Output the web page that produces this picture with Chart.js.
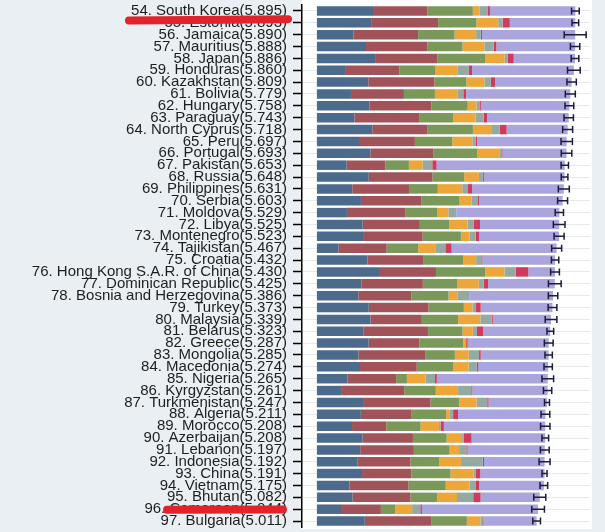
<!DOCTYPE html>
<html>
<head>
<meta charset="utf-8">
<script src="https://cdn.jsdelivr.net/npm/chart.js@4.4.0/dist/chart.umd.min.js"></script>
<style>
  html, body { margin: 0; padding: 0; background: #e9eff2; }
  #wrap { width: 605px; height: 532px; position: relative; }
</style>
</head>
<body>
<div id="wrap"><canvas id="c" width="605" height="532"></canvas></div>
<script>
const ranks = [54,55,56,57,58,59,60,61,62,63,64,65,66,67,68,69,70,71,72,73,74,75,76,77,78,79,80,81,82,83,84,85,86,87,88,89,90,91,92,93,94,95,96,97];
const countries = ["South Korea","Estonia","Jamaica","Mauritius","Japan","Honduras","Kazakhstan","Bolivia","Hungary","Paraguay","North Cyprus","Peru","Portugal","Pakistan","Russia","Philippines","Serbia","Moldova","Libya","Montenegro","Tajikistan","Croatia","Hong Kong S.A.R. of China","Dominican Republic","Bosnia and Herzegovina","Turkey","Malaysia","Belarus","Greece","Mongolia","Macedonia","Nigeria","Kyrgyzstan","Turkmenistan","Algeria","Morocco","Azerbaijan","Lebanon","Indonesia","China","Vietnam","Bhutan","Cameroon","Bulgaria"];
const scores = [5.895,5.893,5.890,5.888,5.886,5.860,5.809,5.779,5.758,5.743,5.718,5.697,5.693,5.653,5.648,5.631,5.603,5.529,5.525,5.523,5.467,5.432,5.430,5.425,5.386,5.373,5.339,5.323,5.287,5.285,5.274,5.265,5.261,5.247,5.211,5.208,5.208,5.197,5.192,5.191,5.175,5.082,5.044,5.011];

const gdp        = [1.301,1.237,0.831,1.120,1.327,0.642,1.173,0.776,1.201,0.855,1.263,0.960,1.221,0.677,1.183,0.807,1.004,0.685,1.044,1.051,0.493,1.155,1.438,1.015,0.945,1.183,1.221,1.067,1.181,0.948,0.983,0.696,0.551,1.052,1.002,0.801,1.043,0.987,0.931,1.029,0.741,0.813,0.549,1.092];
const social     = [1.219,1.528,1.478,1.402,1.419,1.236,1.508,1.209,1.410,1.475,1.252,1.274,1.431,0.886,1.452,1.293,1.383,1.328,1.303,1.361,1.098,1.266,1.277,1.401,1.212,1.360,1.171,1.465,1.156,1.531,1.294,1.111,1.438,1.538,1.160,0.782,1.147,1.224,1.203,1.125,1.346,1.321,0.910,1.513];
const health     = [1.036,0.874,0.831,0.798,1.088,0.828,0.729,0.706,0.828,0.777,1.042,0.854,0.999,0.535,0.726,0.657,0.854,0.739,0.673,0.871,0.718,0.914,1.122,0.779,0.845,0.808,0.828,0.789,0.999,0.667,0.838,0.245,0.723,0.657,0.785,0.782,0.769,0.815,0.660,0.893,0.851,0.604,0.331,0.815];
const freedom    = [0.159,0.495,0.490,0.498,0.445,0.507,0.410,0.511,0.199,0.514,0.417,0.455,0.508,0.313,0.334,0.558,0.282,0.245,0.416,0.197,0.389,0.296,0.440,0.497,0.212,0.195,0.508,0.235,0.067,0.317,0.345,0.426,0.508,0.394,0.086,0.418,0.351,0.216,0.491,0.521,0.543,0.457,0.381,0.311];
const generosity = [0.175,0.103,0.107,0.215,0.069,0.246,0.146,0.137,0.081,0.184,0.191,0.083,0.047,0.220,0.082,0.117,0.137,0.181,0.133,0.142,0.230,0.119,0.258,0.113,0.263,0.083,0.260,0.094,0.000,0.235,0.185,0.215,0.300,0.244,0.073,0.036,0.035,0.166,0.498,0.058,0.147,0.370,0.187,0.081];
const corruption = [0.056,0.161,0.028,0.060,0.140,0.078,0.096,0.064,0.020,0.080,0.162,0.027,0.025,0.098,0.031,0.107,0.039,0.000,0.152,0.080,0.144,0.022,0.287,0.101,0.006,0.106,0.024,0.142,0.034,0.038,0.034,0.041,0.023,0.028,0.114,0.076,0.182,0.027,0.028,0.100,0.073,0.167,0.037,0.004];
const dystopia   = [1.949,1.495,2.125,1.795,1.398,2.323,1.747,2.376,2.019,1.858,1.391,2.044,1.462,2.924,1.840,2.092,1.904,2.351,1.804,1.821,2.395,1.660,0.608,1.519,1.903,1.638,1.327,1.531,1.850,1.549,1.595,2.531,1.718,1.334,1.991,2.313,1.681,1.762,1.381,1.465,1.474,1.350,2.649,1.195];
const ciHalf     = [0.087,0.076,0.250,0.107,0.087,0.145,0.107,0.114,0.100,0.107,0.114,0.130,0.120,0.084,0.076,0.125,0.114,0.095,0.133,0.114,0.114,0.084,0.100,0.145,0.107,0.100,0.133,0.076,0.100,0.084,0.095,0.133,0.095,0.057,0.100,0.107,0.076,0.100,0.125,0.057,0.087,0.137,0.145,0.087];

const seriesNames = ["GDP per capita","Social support","Healthy life expectancy","Freedom","Generosity","Perceptions of corruption","Dystopia + residual"];
const seriesColors = ["#4b6a8c","#a1535a","#7a985a","#eda63a","#93aaa2","#d13a5c","#aaa6dd"];

const labels = ranks.map((r, i) => r + ". " + countries[i] + "(" + scores[i].toFixed(3) + ")");
const seriesData = [gdp, social, health, freedom, generosity, corruption, dystopia];

const bgPlugin = {
  id: 'bg',
  beforeDraw(chart) {
    const ctx = chart.ctx, a = chart.chartArea;
    ctx.save();
    ctx.fillStyle = '#e9eff2';
    ctx.fillRect(0, 0, chart.width, chart.height);
    ctx.fillStyle = '#ffffff';
    ctx.fillRect(a.left, 0, a.right - a.left + 2, a.bottom + 2);
    ctx.restore();
  }
};

const whiskerPlugin = {
  id: 'whiskers',
  afterDatasetsDraw(chart) {
    const ctx = chart.ctx, xs = chart.scales.x, ys = chart.scales.y;
    ctx.save();
    ctx.strokeStyle = '#1c1c3c';
    ctx.lineWidth = 1.5;
    scores.forEach((s, i) => {
      const y = ys.getPixelForValue(i);
      const x1 = xs.getPixelForValue(s - ciHalf[i]);
      const x2 = xs.getPixelForValue(s + ciHalf[i]);
      ctx.beginPath();
      ctx.moveTo(x1, y); ctx.lineTo(x2, y);
      ctx.moveTo(x1, y - 3.5); ctx.lineTo(x1, y + 3.5);
      ctx.moveTo(x2, y - 3.5); ctx.lineTo(x2, y + 3.5);
      ctx.stroke();
    });
    ctx.restore();
  }
};

const markPlugin = {
  id: 'marks',
  afterDraw(chart) {
    const ctx = chart.ctx, ys = chart.scales.y;
    ctx.save();
    ctx.strokeStyle = '#e3232b';
    ctx.lineWidth = 8;
    ctx.lineCap = 'round';
    const y1 = ys.getPixelForValue(0.76);
    ctx.beginPath(); ctx.moveTo(129, y1 + 0.5); ctx.lineTo(288, y1 - 0.8); ctx.stroke();
    const y2 = ys.getPixelForValue(42);
    ctx.beginPath(); ctx.moveTo(167, y2 + 0.5); ctx.lineTo(283, y2 + 0.3); ctx.stroke();
    ctx.restore();
  }
};

new Chart(document.getElementById('c'), {
  type: 'bar',
  data: {
    labels: labels,
    datasets: seriesData.map((d, k) => ({
      label: seriesNames[k],
      data: d,
      backgroundColor: seriesColors[k],
      borderWidth: 0,
      barPercentage: 0.8,
      categoryPercentage: 1.0
    }))
  },
  options: {
    indexAxis: 'y',
    responsive: false,
    animation: false,
    events: [],
    layout: { padding: { top: 5, bottom: 5, left: 0, right: 15 } },
    plugins: { legend: { display: false }, tooltip: { enabled: false } },
    scales: {
      x: {
        stacked: true,
        display: false,
        min: -0.34,
        max: 6.228
      },
      y: {
        stacked: true,
        afterFit(scale) {
          scale.width = 302;
          scale.paddingTop = 0;
          scale.paddingBottom = 0;
        },
        grid: {
          offset: false,
          color: '#e6eaec',
          lineWidth: 1,
          drawTicks: true,
          tickLength: 9,
          tickColor: '#000000',
          tickWidth: 1.5
        },
        border: { display: true, color: '#000000', width: 1.5 },
        ticks: {
          autoSkip: false,
          padding: 6,
          color: '#1e1e1e',
          font: { family: '"Liberation Sans", Arial, sans-serif', size: 15 }
        }
      }
    }
  },
  plugins: [bgPlugin, whiskerPlugin, markPlugin]
});
</script>
</body>
</html>
